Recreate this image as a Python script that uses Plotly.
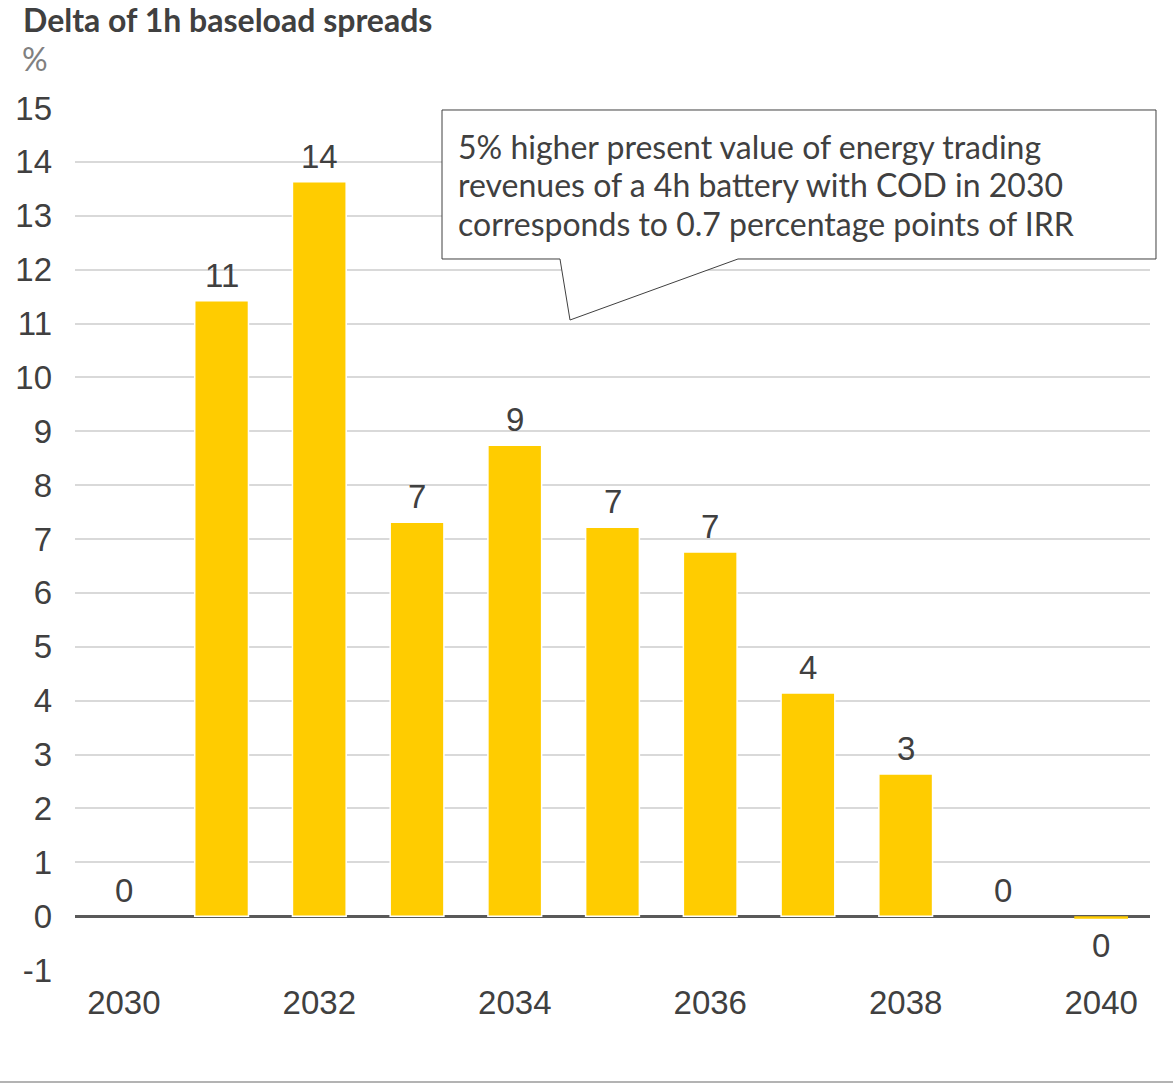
import plotly.graph_objects as go

# Yearly delta of 1h baseload spreads, in percent
years = [2030, 2031, 2032, 2033, 2034, 2035, 2036, 2037, 2038, 2039, 2040]
delta = [0.0, 11.42, 13.63, 7.31, 8.74, 7.22, 6.76, 4.14, 2.64, 0.0, -0.05]
x_ticks = [2030, 2032, 2034, 2036, 2038, 2040]
y_ticks = list(range(-1, 16))
y_tick_text = [str(v) for v in y_ticks]

title_text = "Delta of 1h baseload spreads"
unit_text = "%"
callout_lines = [
    "5% higher present value of energy trading",
    "revenues of a 4h battery with COD in 2030",
    "corresponds to 0.7 percentage points of IRR",
]

W, H = 1173, 1084
ML, MR, MT, MB = 75, 23, 108, 114
PW, PH = W - ML - MR, H - MT - MB

TXT = "#404040"
BAR = "#FFCC00"
LABEL_FONT = "Liberation Sans, Arial, sans-serif"
TEXT_FONT = "Lato, sans-serif"
LABEL_SIZE = 33


def px(x):
    return (x - ML) / PW


def py(y):
    return (H - MB - y) / PH


# white outline on real bars only; near-zero bars stay as a bare fill
outline_w = [1.5 if abs(v) >= 0.5 else 0 for v in delta]

fig = go.Figure()
fig.add_trace(go.Bar(
    x=years, y=delta,
    marker=dict(color=BAR, line=dict(color="white", width=outline_w)),
    width=0.55,
    hoverinfo="skip",
))

# value labels above (or below) each bar
for yr, v in zip(years, delta):
    fig.add_annotation(
        x=yr, y=v, text=str(int(round(v))), showarrow=False,
        xref="x", yref="y",
        yanchor="top" if v < 0 else "bottom",
        yshift=-6 if v < 0 else 5,
        font=dict(family=LABEL_FONT, size=LABEL_SIZE, color=TXT),
    )

# callout box with a pointer
box_l, box_r, box_t, box_b = 442, 1156, 110, 259
tip = (570, 320)
base_l, base_r = 560, 738
pts = [(box_l, box_t), (box_r, box_t), (box_r, box_b), (base_r, box_b),
       tip, (base_l, box_b), (box_l, box_b)]
path = "M " + " L ".join(f"{px(a):.5f},{py(b):.5f}" for a, b in pts) + " Z"
fig.add_shape(type="path", path=path, xref="paper", yref="paper",
              fillcolor="white", line=dict(color="#404040", width=1),
              layer="above")
for i, line in enumerate(callout_lines):
    fig.add_annotation(
        x=px(456), y=py(147 + 38 * i), xref="paper", yref="paper",
        text=line, showarrow=False, xanchor="left", yanchor="middle",
        align="left", font=dict(family=TEXT_FONT, size=32, color=TXT),
    )

# title and unit
fig.add_annotation(
    x=px(21), y=py(-2), xref="paper", yref="paper", text=f"<b>{title_text}</b>",
    showarrow=False, xanchor="left", yanchor="top",
    font=dict(family=TEXT_FONT, size=32, color=TXT),
)
fig.add_annotation(
    x=px(20), y=py(37), xref="paper", yref="paper", text=unit_text,
    showarrow=False, xanchor="left", yanchor="top",
    font=dict(family=TEXT_FONT, size=32, color="#808080"),
)

# bottom rule
fig.add_shape(type="line", xref="paper", yref="paper",
              x0=px(0), x1=px(W), y0=py(1082), y1=py(1082),
              line=dict(color="#b3b3b3", width=2))

fig.update_layout(
    width=W, height=H,
    margin=dict(l=ML, r=MR, t=MT, b=MB),
    plot_bgcolor="white", paper_bgcolor="white",
    showlegend=False,
    xaxis=dict(
        range=[2029.5, 2040.5], tickmode="array", tickvals=x_ticks,
        showgrid=False, zeroline=False, showline=False, ticks="",
        ticklabelstandoff=10,
        tickfont=dict(family=LABEL_FONT, size=LABEL_SIZE, color=TXT),
    ),
    yaxis=dict(
        range=[-1, 15], tickmode="array", tickvals=y_ticks,
        ticktext=y_tick_text,
        showgrid=True, gridcolor="#d9d9d9", gridwidth=1.5,
        zeroline=True, zerolinecolor="#595959", zerolinewidth=2.5,
        showline=False, ticks="", ticklabelstandoff=22,
        tickfont=dict(family=LABEL_FONT, size=LABEL_SIZE, color=TXT),
    ),
)

fig.write_html("out.html")
